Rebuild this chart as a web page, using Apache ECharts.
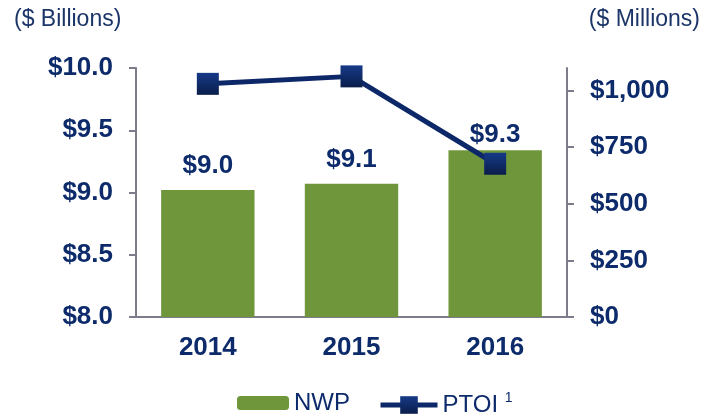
<!DOCTYPE html>
<html>
<head>
<meta charset="utf-8">
<script src="https://cdn.jsdelivr.net/npm/echarts@6/dist/echarts.min.js"></script>
<style>
  html, body { margin: 0; padding: 0; background: #fff; }
  #chart { width: 710px; height: 414px; }
</style>
</head>
<body>
<div id="chart"></div>
<script>
const years = ["2014", "2015", "2016"];
const nwp = [9.02, 9.07, 9.34];
const ptoi = [1030, 1063, 677];
const rightTicks = [0, 250, 500, 750, 1000];

const navy = "#0d2b6b";
const axisGrey = "#7c7c8a";
const font = "'Liberation Sans', Arial, sans-serif";

const chart = echarts.init(document.getElementById("chart"));

// the 2016 label sits closer to its bar in the original
const barData = nwp.map((v, i) => (i === 2 ? { value: v, label: { distance: 2 } } : v));

chart.setOption({
  animation: false,
  textStyle: { fontFamily: font },
  title: [
    {
      text: "($ Billions)",
      left: 9,
      top: 3,
      textStyle: { color: "#1c3568", fontSize: 23, fontWeight: "normal", fontFamily: font },
    },
    {
      text: "($ Millions)",
      right: 5,
      top: 3,
      textStyle: { color: "#1c3568", fontSize: 23, fontWeight: "normal", fontFamily: font },
    },
  ],
  grid: { left: 136, right: 143, top: 68, bottom: 97 },
  legend: [
    {
      data: ["NWP"],
      left: 232,
      top: 386,
      itemWidth: 52,
      itemHeight: 14,
      itemGap: 0,
      textStyle: { color: navy, fontSize: 24, fontFamily: font },
    },
    {
      data: ["PTOI"],
      left: 373,
      top: 386,
      itemWidth: 57,
      itemHeight: 22,
      lineStyle: { width: 5 },
      formatter: "PTOI {sup|1}",
      textStyle: {
        color: navy,
        fontSize: 24,
        fontFamily: font,
        rich: {
          sup: { fontSize: 14, color: navy, verticalAlign: "top", padding: [0, 0, 14, 0] },
        },
      },
    },
  ],
  xAxis: {
    type: "category",
    data: years,
    axisLine: { lineStyle: { color: axisGrey, width: 2 } },
    axisTick: { length: 7, lineStyle: { color: axisGrey, width: 2 } },
    axisLabel: { color: navy, fontSize: 26, fontWeight: "bold", margin: 18 },
  },
  yAxis: [
    {
      type: "value",
      min: 8,
      max: 10,
      interval: 0.5,
      splitLine: { show: false },
      axisLine: { show: true, lineStyle: { color: axisGrey, width: 2 } },
      axisTick: { show: true, length: 7, lineStyle: { color: axisGrey, width: 2 } },
      axisLabel: {
        color: navy,
        fontSize: 26,
        fontWeight: "bold",
        margin: 23,
        formatter: (v) => "$" + v.toFixed(1),
      },
    },
    {
      type: "value",
      min: 0,
      max: 1100,
      splitLine: { show: false },
      axisLine: { show: true, lineStyle: { color: axisGrey, width: 2 } },
      axisTick: { show: true, length: 7, customValues: rightTicks, lineStyle: { color: axisGrey, width: 2 } },
      axisLabel: {
        color: navy,
        fontSize: 26,
        fontWeight: "bold",
        margin: 23,
        customValues: rightTicks,
        formatter: (v) => "$" + v.toLocaleString("en-US"),
      },
    },
  ],
  series: [
    {
      name: "NWP",
      type: "bar",
      data: barData,
      barWidth: "65%",
      itemStyle: { color: "#6f963b" },
      label: {
        show: true,
        position: "top",
        distance: 11,
        color: navy,
        fontSize: 26,
        fontWeight: "bold",
        formatter: (p) => "$" + p.value.toFixed(1),
      },
    },
    {
      name: "PTOI",
      type: "line",
      yAxisIndex: 1,
      data: ptoi,
      symbol: "rect",
      symbolSize: 22,
      lineStyle: { color: "#0c2868", width: 5 },
      itemStyle: {
        color: new echarts.graphic.LinearGradient(0, 0, 0, 1, [
          { offset: 0, color: "#163a88" },
          { offset: 1, color: "#0a1d4a" },
        ]),
      },
      z: 5,
    },
  ],
});
</script>
</body>
</html>
